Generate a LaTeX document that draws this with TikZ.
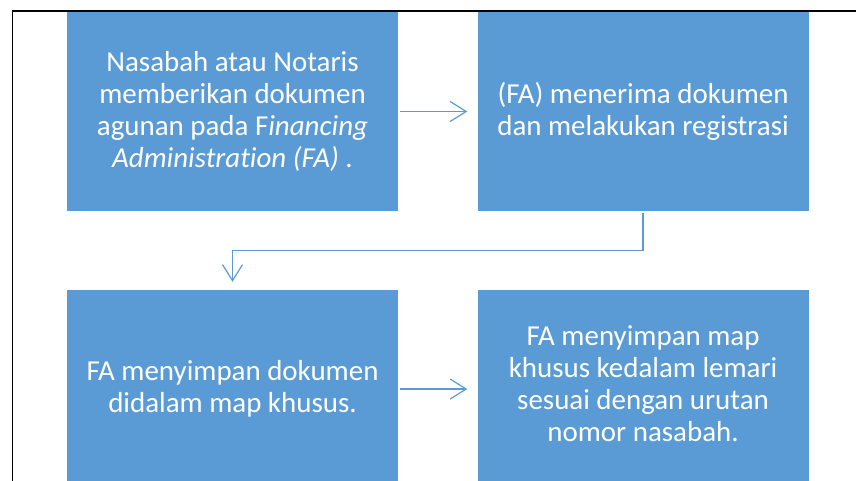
\documentclass[tikz,border=0pt]{standalone}
\usepackage{fontspec}
\setmainfont{Carlito}[Ligatures=NoCommon]
\usetikzlibrary{positioning,arrows.meta}

\definecolor{kotakbiru}{HTML}{5B9BD5}

\tikzset{
    langkah/.style={fill=kotakbiru, text=white, inner sep=0pt,
        minimum width=248.25pt, minimum height=148.5pt, align=center,
        font=\fontsize{21.7pt}{24pt}\selectfont},
    panah/.style={draw=kotakbiru, line width=0.9pt,
        -{Straight Barb[length=12pt,width=15pt]}}
}

\begin{document}
\begin{tikzpicture}[x=0.75pt,y=-0.75pt]

    \path[use as bounding box] (0,0) rectangle (856,481);
    \clip (0,0) rectangle (856,481);

    % kotak atas
    \node[langkah] (b1) at (232.5,111.5)
        {Nasabah atau Notaris\\ memberikan dokumen\\
         agunan pada F\textit{inancing}\\ \textit{Administration (FA)} .};
    \node[langkah, right=59.25pt of b1] (b2)
        {(FA) menerima dokumen\\ dan melakukan registrasi};

    % kotak bawah
    \node[langkah, below=59.25pt of b1] (b3)
        {FA menyimpan dokumen\\ didalam map khusus.};
    \node[langkah, right=59.25pt of b3] (b4)
        {FA menyimpan map\\ khusus kedalam lemari\\
         sesuai dengan urutan\\ nomor nasabah.\\[-16.5pt]};

    % panah
    \draw[panah, shorten <=1.5pt, shorten >=7.5pt] (b1) -- (b2);
    \draw[panah, shorten <=2pt, shorten >=6pt] (b2.south) -- ++(0,39.5) -| (b3.north);
    \draw[panah, shorten <=1.5pt, shorten >=7.5pt] (b3) -- (b4);

    % garis tepi
    \draw[line width=1.2pt] (12.5,481) -- (12.5,11) -- (856,11);

\end{tikzpicture}
\end{document}
